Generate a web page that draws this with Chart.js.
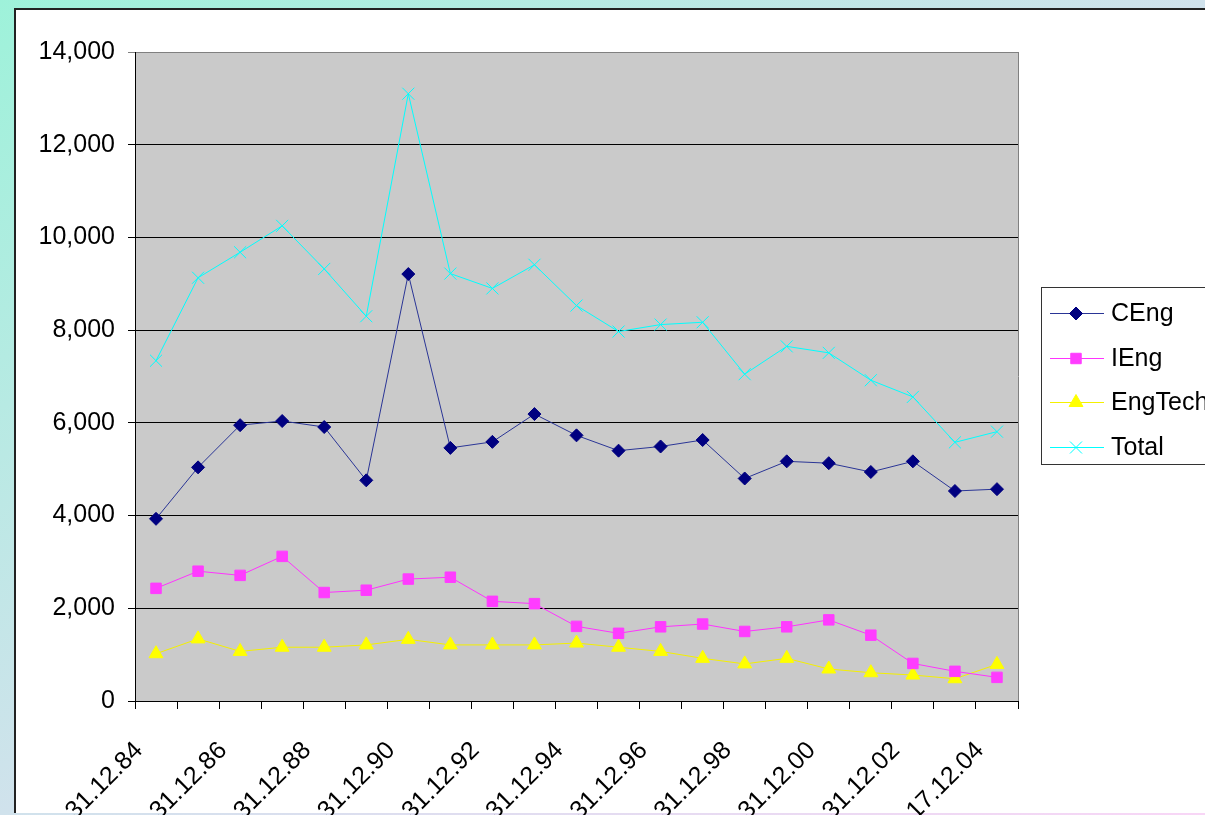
<!DOCTYPE html>
<html>
<head>
<meta charset="utf-8">
<script src="https://cdn.jsdelivr.net/npm/chart.js@4.4.0/dist/chart.umd.min.js"></script>
<style>
html, body { margin: 0; padding: 0; }
body {
    width: 1205px; height: 815px; overflow: hidden; position: relative;
    background: linear-gradient(to bottom right, #9ef2da 0%, #d0e2ec 50%, #f8d6f6 100%);
}
#frame {
    position: absolute; left: 14px; top: 8px; width: 1300px; height: 805px;
    box-sizing: border-box; background: #fff;
    border-left: 2px solid #222; border-top: 2px solid #222;
}
#myChart { position: absolute; left: 0; top: 0; }
</style>
</head>
<body>
<div id="frame"></div>
<canvas id="myChart" width="1205" height="815"></canvas>
<script>
const labels = [
    '31.12.84', '31.12.85', '31.12.86', '31.12.87', '31.12.88', '31.12.89', '31.12.90',
    '31.12.91', '31.12.92', '31.12.93', '31.12.94', '31.12.95', '31.12.96', '31.12.97',
    '31.12.98', '31.12.99', '31.12.00', '31.12.01', '31.12.02', '31.12.03', '17.12.04'
];
const dataCEng = [3930, 5040, 5950, 6040, 5910, 4760, 9210, 5460, 5590, 6190, 5730, 5400, 5490, 5630, 4800, 5170, 5130, 4940, 5170, 4530, 4570];
const dataIEng = [2430, 2800, 2710, 3120, 2340, 2390, 2630, 2670, 2150, 2100, 1610, 1460, 1600, 1660, 1500, 1600, 1750, 1420, 810, 640, 510];
const dataEngTech = [1020, 1340, 1070, 1160, 1160, 1210, 1330, 1210, 1210, 1210, 1250, 1160, 1070, 920, 800, 920, 690, 610, 560, 480, 790];
const dataTotal = [7340, 9130, 9680, 10250, 9320, 8300, 13100, 9220, 8900, 9410, 8530, 7970, 8120, 8170, 7050, 7650, 7510, 6920, 6560, 5580, 5810];

const FONT = '"Liberation Sans", Arial, sans-serif';

// grey plot area + right border like Excel
const plotArea = {
    id: 'plotArea',
    beforeDraw(chart) {
        const a = chart.chartArea;
        const ctx = chart.ctx;
        ctx.save();
        ctx.fillStyle = '#cacaca';
        ctx.fillRect(a.left, a.top, a.right - a.left, a.bottom - a.top);
        ctx.restore();
    },
    beforeDatasetsDraw(chart) {
        const a = chart.chartArea;
        const ctx = chart.ctx;
        ctx.save();
        ctx.strokeStyle = '#808080';
        ctx.lineWidth = 1;
        ctx.beginPath();
        ctx.moveTo(Math.round(a.right) + 0.5, a.top);
        ctx.lineTo(Math.round(a.right) + 0.5, a.bottom);
        ctx.stroke();
        ctx.restore();
    }
};

// legend box with line + marker samples
const excelLegend = {
    id: 'excelLegend',
    afterDraw(chart) {
        const ctx = chart.ctx;
        ctx.save();
        ctx.fillStyle = '#fff';
        ctx.fillRect(1041, 287, 220, 177);
        ctx.strokeStyle = '#333';
        ctx.lineWidth = 1;
        ctx.strokeRect(1041.5, 287.5, 220, 177);
        chart.data.datasets.forEach((ds, i) => {
            const y = Math.round(313 + i * 44.7);
            ctx.strokeStyle = ds.borderColor;
            ctx.lineWidth = 1;
            ctx.beginPath();
            ctx.moveTo(1050, y + 0.5);
            ctx.lineTo(1104, y + 0.5);
            ctx.stroke();
            ctx.fillStyle = ds.pointBackgroundColor;
            ctx.strokeStyle = ds.pointBorderColor;
            ctx.lineWidth = ds.pointBorderWidth;
            Chart.helpers.drawPoint(ctx, {
                pointStyle: ds.pointStyle,
                radius: ds.pointRadius,
                rotation: 0,
                borderWidth: ds.pointBorderWidth
            }, 1076, y + 0.5);
            ctx.fillStyle = '#000';
            ctx.font = '25px ' + FONT;
            ctx.textBaseline = 'middle';
            ctx.textAlign = 'left';
            ctx.fillText(ds.label, 1111, y + 1);
        });
        ctx.restore();
    }
};

const data = {
    labels: labels,
    datasets: [
        {
            label: 'CEng',
            data: dataCEng,
            borderColor: '#2a3596',
            borderWidth: 1,
            pointStyle: 'rectRot',
            pointRadius: 6.5,
            pointBackgroundColor: '#000080',
            pointBorderColor: '#000080',
            pointBorderWidth: 1,
        },
        {
            label: 'IEng',
            data: dataIEng,
            borderColor: '#ff33ff',
            borderWidth: 1,
            pointStyle: 'rect',
            pointRadius: 7.4,
            pointBackgroundColor: '#ff3cff',
            pointBorderColor: '#ff3cff',
            pointBorderWidth: 1,
        },
        {
            label: 'EngTech',
            data: dataEngTech,
            borderColor: '#f4f000',
            borderWidth: 1,
            pointStyle: 'triangle',
            pointRadius: 8,
            pointBackgroundColor: '#ffff00',
            pointBorderColor: '#ffff00',
            pointBorderWidth: 1,
        },
        {
            label: 'Total',
            data: dataTotal,
            borderColor: '#00ffff',
            borderWidth: 1,
            pointStyle: 'crossRot',
            pointRadius: 8.5,
            pointBackgroundColor: '#00ffff',
            pointBorderColor: '#00ffff',
            pointBorderWidth: 1,
        }
    ]
};

const config = {
    type: 'line',
    data: data,
    options: {
        responsive: false,
        animation: false,
        layout: { padding: { top: 52, right: 187, left: 0, bottom: 0 } },
        plugins: {
            legend: { display: false },
            tooltip: { enabled: false },
            title: { display: false }
        },
        elements: { line: { tension: 0 } },
        scales: {
            x: {
                type: 'category',
                offset: true,
                afterFit(scale) { scale.height = 114; },
                grid: {
                    offset: true,
                    drawOnChartArea: false,
                    drawTicks: true,
                    tickLength: 8,
                    color: '#000'
                },
                border: { color: '#000', width: 1 },
                ticks: {
                    autoSkip: false,
                    minRotation: 45,
                    maxRotation: 45,
                    padding: 27,
                    labelOffset: -17,
                    color: '#000',
                    font: { family: FONT, size: 25 },
                    callback: function (value, index) {
                        return index % 2 === 0 ? this.getLabelForValue(value) : '';
                    }
                }
            },
            y: {
                min: 0,
                max: 14000,
                afterFit(scale) { scale.width = 135; },
                grid: {
                    tickLength: 7,
                    color: (c) => (c.tick && c.tick.value === 14000 ? '#808080' : '#000')
                },
                border: { color: '#000', width: 1 },
                ticks: {
                    stepSize: 2000,
                    padding: 13,
                    color: '#000',
                    font: { family: FONT, size: 25 },
                    callback: (v) => v.toLocaleString('en-US')
                }
            }
        }
    },
    plugins: [plotArea, excelLegend]
};

const myChart = new Chart(
    document.getElementById('myChart'),
    config
);
</script>
</body>
</html>
